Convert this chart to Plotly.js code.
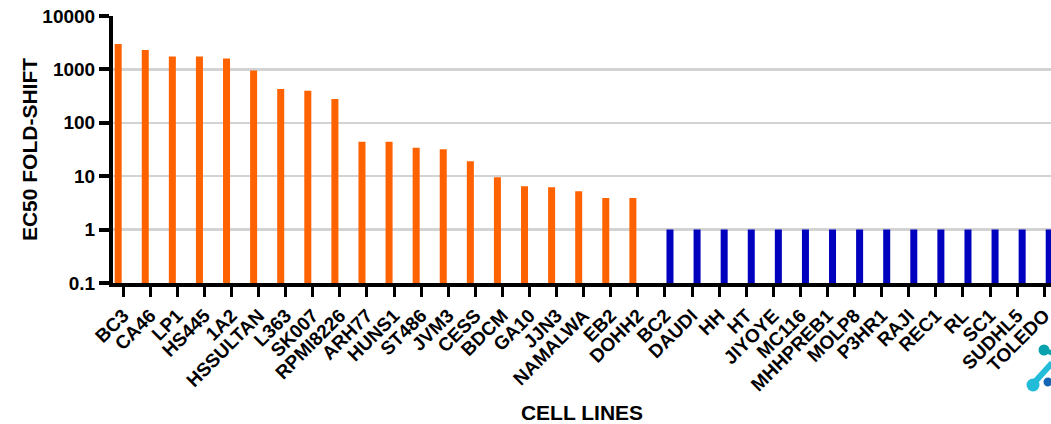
<!DOCTYPE html>
<html>
<head>
<meta charset="utf-8">
<script src="https://cdn.plot.ly/plotly-3.0.1.min.js"></script>
<style>html,body{margin:0;padding:0;background:#fff;}#chart{width:1051px;height:424px;}</style>
</head>
<body>
<div id="chart"></div>
<script>
// Data
var cellLines = ["BC3","CA46","LP1","HS445","1A2","HSSULTAN","L363","SK007","RPMI8226","ARH77","HUNS1","ST486","JVM3","CESS","BDCM","GA10","JJN3","NAMALWA","EB2","DOHH2","BC2","DAUDI","HH","HT","JIYOYE","MC116","MHHPREB1","MOLP8","P3HR1","RAJI","REC1","RL","SC1","SUDHL5","TOLEDO"];
var shiftedValues = [3000,2300,1750,1750,1600,950,430,400,280,44,44,34,32,19,9.6,6.5,6.2,5.2,3.9,3.9,null,null,null,null,null,null,null,null,null,null,null,null,null,null,null];
var unshiftedValues = [null,null,null,null,null,null,null,null,null,null,null,null,null,null,null,null,null,null,null,null,1,1,1,1,1,1,1,1,1,1,1,1,1,1,1];
var yTickVals = [0.1,1,10,100,1000,10000];
var yTickText = ["0.1","1","10","100","1000","10000"];

var W = 1051, H = 424;
var L = 113, R = 0, T = 16, B = 141;
var pw = W - L - R, ph = H - T - B;
function px(x){ return (x - L) / pw; }
function py(y){ return (H - B - y) / ph; }
function circ(cx, cy, r, color){
  return {type:'circle', xref:'paper', yref:'paper', x0:px(cx-r), x1:px(cx+r), y0:py(cy+r), y1:py(cy-r), fillcolor:color, line:{width:0}, layer:'above'};
}
function seg(xa, ya, xb, yb, w, color){
  return {type:'line', xref:'paper', yref:'paper', x0:px(xa), y0:py(ya), x1:px(xb), y1:py(yb), line:{color:color, width:w}, layer:'above'};
}

var font = {family:'Arial, "Liberation Sans", sans-serif', color:'#000', weight:'bold'};

var traces = [
  {type:'bar', x:cellLines, y:shiftedValues, marker:{color:'#ff6200'}, hoverinfo:'skip', showlegend:false},
  {type:'bar', x:cellLines, y:unshiftedValues, marker:{color:'#0000bf'}, hoverinfo:'skip', showlegend:false}
];

var layout = {
  width: W, height: H,
  margin: {l:L, r:R, t:T, b:B, pad:0},
  paper_bgcolor:'#fff', plot_bgcolor:'#fff',
  barmode:'group', bargap:0.26, bargroupgap:0.3,
  showlegend:false,
  xaxis: {
    type:'category',
    range:[-0.376, 34.25],
    showline:true, linecolor:'#000', linewidth:4,
    ticks:'outside', ticklen:10, tickwidth:3, tickcolor:'#000',
    tickangle:-45,
    tickfont: Object.assign({size:19}, font),
    showgrid:false,
    title:{text:'CELL LINES', font:Object.assign({size:21}, font), standoff:14},
    automargin:false, fixedrange:true
  },
  yaxis: {
    type:'log',
    range:[-1, 4],
    tickvals:yTickVals, ticktext:yTickText,
    showline:true, linecolor:'#000', linewidth:4,
    ticks:'outside', ticklen:10, tickwidth:4, tickcolor:'#000',
    tickfont: Object.assign({size:19}, font),
    showgrid:true, gridcolor:'#d3d3d3', gridwidth:2.5,
    zeroline:false,
    title:{text:'EC50 FOLD-SHIFT', font:Object.assign({size:21}, font), standoff:0},
    automargin:false, fixedrange:true
  },
  shapes: [
    seg(1052, 363, 1033, 384, 6, '#22bcd8'),
    circ(1033, 385, 6.5, '#22bcd8'),
    seg(1044, 350, 1052, 353, 5, '#0aa3ad'),
    circ(1044, 350, 5.5, '#0aa3ad'),
    circ(1048, 382, 4.5, '#1565b5')
  ]
};

Plotly.newPlot('chart', traces, layout, {displayModeBar:false, staticPlot:true});
</script>
</body>
</html>
